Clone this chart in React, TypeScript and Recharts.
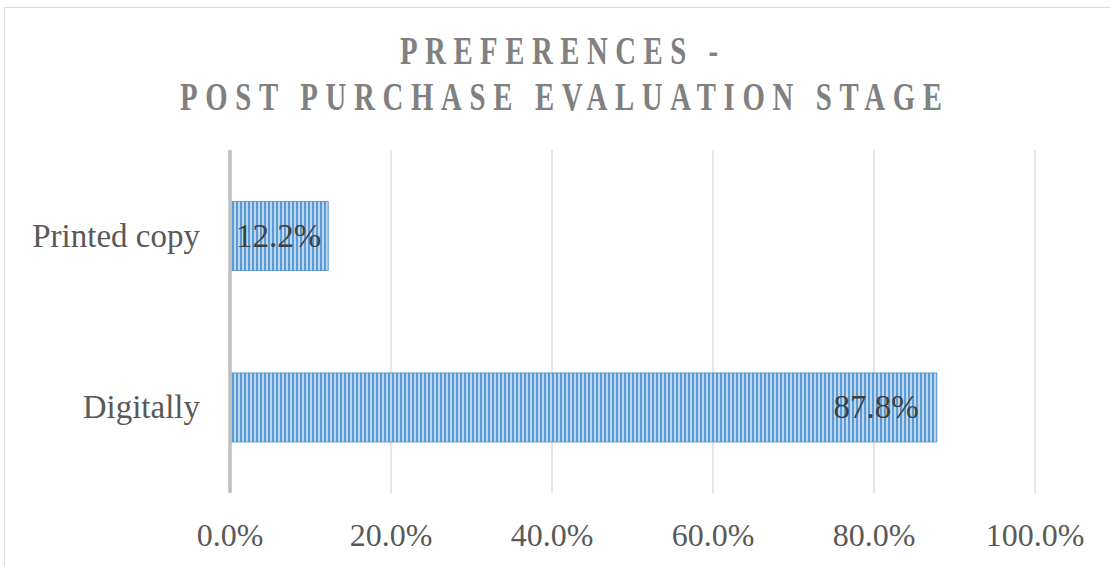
import React from "react";
import { BarChart, Bar, XAxis, YAxis, CartesianGrid, LabelList } from "recharts";

const categories = ["Printed copy", "Digitally"];
const values = [0.122, 0.878];
const valueLabels = ["12.2%", "87.8%"];
const xTicks = [0, 0.2, 0.4, 0.6, 0.8, 1.0];
const xTickLabels = ["0.0%", "20.0%", "40.0%", "60.0%", "80.0%", "100.0%"];
const titleLines = ["PREFERENCES -", "POST PURCHASE EVALUATION STAGE"];

const data = categories.map((c, i) => ({ name: c, value: values[i], label: valueLabels[i] }));

const FONT = "'Liberation Serif', 'DejaVu Serif', serif";

const XTick = (props: any) => {
  const { x, y, payload } = props;
  const idx = xTicks.indexOf(payload.value);
  return (
    <text x={x} y={y + 53} textAnchor="middle" fill="#595959" fontSize={32} fontFamily={FONT}>
      {idx >= 0 ? xTickLabels[idx] : payload.value}
    </text>
  );
};

const YTick = (props: any) => {
  const { y, payload } = props;
  return (
    <text x={200} y={y + 11} textAnchor="end" fill="#595959" fontSize={33} fontFamily={FONT}>
      {payload.value}
    </text>
  );
};

const BarLabel = (props: any) => {
  const { x, y, width, height, index } = props;
  const isLast = index === data.length - 1;
  const tx = isLast ? x + width - 18 : x + 6;
  return (
    <text
      x={tx}
      y={y + height / 2 + 11}
      textAnchor={isLast ? "end" : "start"}
      fill="#404040"
      fontSize={33}
      fontFamily={FONT}
    >
      {data[index].label}
    </text>
  );
};

const SX = 0.72;

const TitleLine = ({ cx, y, width, text }: { cx: number; y: number; width: number; text: string }) => (
  <g transform={`translate(${cx},${y}) scale(${SX},1)`}>
    <text
      x={0}
      y={0}
      textAnchor="middle"
      fill="#808080"
      fontSize={40}
      fontWeight="bold"
      fontFamily={FONT}
      textLength={width / SX}
      lengthAdjust="spacing"
    >
      {text}
    </text>
  </g>
);

export default function App() {
  return (
    <div style={{ position: "absolute", left: 0, top: 0, width: 1110, height: 566, background: "#fff", overflow: "hidden" }}>
      <BarChart
        width={1110}
        height={566}
        data={data}
        layout="vertical"
        margin={{ top: 150, right: 75, bottom: 13, left: 0 }}
        barCategoryGap="30%"
      >
        <defs>
          <pattern id="stripes" patternUnits="userSpaceOnUse" width="4" height="4">
            <rect x="0" y="0" width="4" height="4" fill="#BDD7EE" />
            <rect x="0" y="0" width="2" height="4" fill="#5B9BD5" />
          </pattern>
        </defs>
        <CartesianGrid horizontal={false} stroke="#D9D9D9" strokeWidth={1.3} />
        <XAxis
          type="number"
          domain={[0, 1]}
          ticks={xTicks}
          axisLine={false}
          tickLine={false}
          tickSize={0}
          tickMargin={0}
          height={60}
          tick={<XTick />}
          interval={0}
        />
        <YAxis
          type="category"
          dataKey="name"
          width={230}
          axisLine={{ stroke: "#BFBFBF", strokeWidth: 3.5 }}
          tickLine={false}
          tickSize={0}
          tickMargin={0}
          tick={<YTick />}
        />
        <Bar dataKey="value" fill="url(#stripes)" stroke="#5B9BD5" strokeWidth={1} isAnimationActive={false}>
          <LabelList dataKey="value" content={<BarLabel />} />
        </Bar>
      </BarChart>
      <svg width={1110} height={566} style={{ position: "absolute", left: 0, top: 0, pointerEvents: "none" }}>
        <rect x={4.5} y={7.5} width={1200} height={700} fill="none" stroke="#D9D9D9" strokeWidth={1} />
        <TitleLine cx={559} y={64} width={318} text={titleLines[0]} />
        <TitleLine cx={561} y={110} width={762} text={titleLines[1]} />
      </svg>
    </div>
  );
}
